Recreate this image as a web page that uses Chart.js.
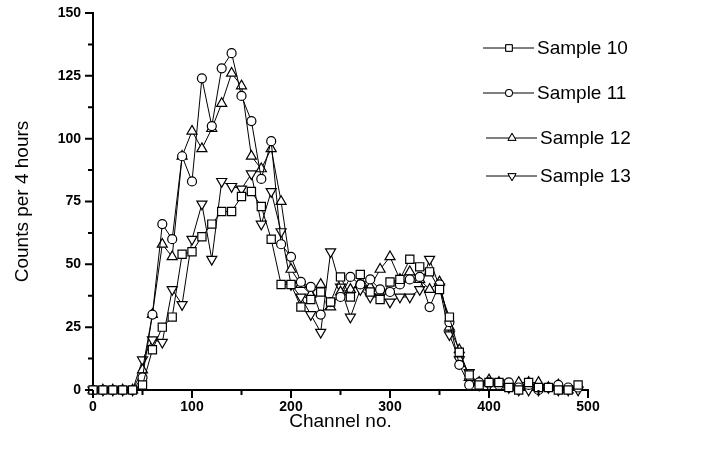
<!DOCTYPE html>
<html>
<head>
<meta charset="utf-8">
<script src="https://cdn.jsdelivr.net/npm/chart.js@4"></script>
<style>
  html, body { margin: 0; padding: 0; background: #fff; }
  #wrap { width: 726px; height: 453px; }
</style>
</head>
<body>
<div id="wrap"><canvas id="chart" width="726" height="453"></canvas></div>
<script>
// --- Data ---
const channels = [0, 10, 20, 30, 40, 50, 60, 70, 80, 90,
  100, 110, 120, 130, 140, 150, 160, 170, 180, 190,
  200, 210, 220, 230, 240, 250, 260, 270, 280, 290,
  300, 310, 320, 330, 340, 350, 360, 370, 380, 390,
  400, 410, 420, 430, 440, 450, 460, 470, 480, 490];

const sample10 = [0, 0, 0, 0, 0, 2, 16, 25, 29, 54,
  55, 61, 66, 71, 71, 77, 79, 73, 60, 42,
  42, 33, 36, 39, 35, 45, 37, 46, 39, 36,
  43, 44, 52, 49, 47, 40, 29, 15, 6, 2,
  3, 3, 1, 0, 3, 1, 1, 0, 0, 2];

const sample11 = [0, 0, 0, 0, 0, 5, 30, 66, 60, 93,
  83, 124, 105, 128, 134, 117, 107, 84, 99, 58,
  53, 43, 41, 30, 35, 37, 45, 42, 44, 40,
  39, 42, 44, 45, 33, 42, 27, 10, 2, 3,
  3, 2, 3, 1, 2, 0, 1, 2, 1, 1];

const sample12 = [0, 0, 0, 0, 0, 8, 30, 58, 53, 93,
  103, 96, 104, 114, 126, 121, 93, 88, 96, 75,
  48, 42, 38, 42, 33, 39, 40, 42, 41, 48,
  53, 44, 47, 44, 40, 43, 25, 16, 5, 3,
  4, 3, 2, 3, 3, 3, 1, 2, 0, 1];

const sample13 = [0, 0, 0, 0, 0, 12, 20, 19, 40, 34,
  60, 74, 52, 83, 81, 80, 86, 66, 79, 63,
  42, 37, 30, 23, 55, 41, 29, 40, 37, 37,
  35, 37, 37, 40, 52, 41, 22, 12, 7, 2,
  2, 3, 1, 0, 0, 0, 1, 0, 0, 0];

const seriesNames = ['Sample 10', 'Sample 11', 'Sample 12', 'Sample 13'];
const xMajor = [0, 100, 200, 300, 400, 500];
const yMajor = [0, 25, 50, 75, 100, 125, 150];

// --- Styling ---
const FONT = "'Liberation Sans', Arial, sans-serif";
const markers = [
  { style: 'rect', radius: 5.8, rotation: 0 },
  { style: 'circle', radius: 4.5, rotation: 0 },
  { style: 'triangle', radius: 5.8, rotation: 0 },
  { style: 'triangle', radius: 5.8, rotation: 180 }
];

function toPoints(values) {
  return channels.map((c, i) => ({ x: c, y: values[i] }));
}

const datasets = [sample10, sample11, sample12, sample13].map((vals, i) => ({
  label: seriesNames[i],
  data: toPoints(vals),
  borderColor: '#000',
  borderWidth: 1,
  tension: 0,
  pointStyle: markers[i].style,
  pointRotation: markers[i].rotation,
  pointRadius: markers[i].radius,
  pointBackgroundColor: '#fff',
  pointBorderColor: '#000',
  pointBorderWidth: 1.2,
  clip: false
}));

// ticks outward, major + minor
const axisTicks = {
  id: 'axisTicks',
  afterDraw(chart) {
    const ctx = chart.ctx;
    const xs = chart.scales.x, ys = chart.scales.y;
    ctx.save();
    ctx.strokeStyle = '#000';
    ctx.lineWidth = 2;
    const bottom = ys.getPixelForValue(0);
    const left = xs.getPixelForValue(0);
    ctx.beginPath();
    xMajor.forEach((v, i) => {
      const px = xs.getPixelForValue(v);
      ctx.moveTo(px, bottom); ctx.lineTo(px, bottom + 8);
      if (i < xMajor.length - 1) {
        const mx = xs.getPixelForValue(v + 50);
        ctx.moveTo(mx, bottom); ctx.lineTo(mx, bottom + 5);
      }
    });
    yMajor.forEach((v, i) => {
      const py = ys.getPixelForValue(v);
      ctx.moveTo(left, py); ctx.lineTo(left - 8, py);
      if (i < yMajor.length - 1) {
        const my = ys.getPixelForValue(v + 12.5);
        ctx.moveTo(left, my); ctx.lineTo(left - 5, my);
      }
    });
    ctx.stroke();
    ctx.restore();
  }
};

// line-marker-line legend like the original
const sampleLegend = {
  id: 'sampleLegend',
  afterDraw(chart) {
    const ctx = chart.ctx;
    const rows = [48, 93, 138, 176];
    const shift = [0, 0, 3, 3];
    ctx.save();
    ctx.font = '19px ' + FONT;
    ctx.textBaseline = 'middle';
    ctx.fillStyle = '#000';
    rows.forEach((y, i) => {
      const x0 = 483 + shift[i];
      ctx.strokeStyle = '#000';
      ctx.lineWidth = 1;
      ctx.beginPath();
      ctx.moveTo(x0, y); ctx.lineTo(x0 + 51, y);
      ctx.stroke();
      Chart.helpers.drawPoint(ctx, {
        pointStyle: markers[i].style,
        rotation: markers[i].rotation,
        radius: markers[i].radius * 0.8,
        borderWidth: 1
      }, x0 + 26, y);
      ctx.fillStyle = '#fff';
      ctx.fill();
      ctx.stroke();
      ctx.fillStyle = '#000';
      ctx.fillText(seriesNames[i], x0 + 54, y + 1);
    });
    ctx.restore();
  }
};

new Chart(document.getElementById('chart'), {
  type: 'line',
  data: { datasets },
  options: {
    responsive: false,
    animation: false,
    layout: { padding: { top: 13, right: 138, bottom: 0, left: 0 } },
    plugins: { legend: { display: false }, tooltip: { enabled: false } },
    scales: {
      x: {
        type: 'linear',
        min: 0, max: 500,
        afterFit(scale) { scale.height = 63; scale.paddingLeft = 0; scale.paddingRight = 0; },
        grid: { display: false, drawTicks: false },
        border: { display: true, color: '#000', width: 2 },
        ticks: {
          stepSize: 100,
          padding: 9,
          color: '#000',
          font: { family: FONT, size: 14, weight: 'bold' }
        },
        title: {
          display: true,
          text: 'Channel no.',
          color: '#000',
          font: { family: FONT, size: 19 },
          padding: { top: 0, bottom: 20 }
        }
      },
      y: {
        min: 0, max: 150,
        afterFit(scale) { scale.width = 93; scale.paddingTop = 0; scale.paddingBottom = 0; },
        grid: { display: false, drawTicks: false },
        border: { display: true, color: '#000', width: 2 },
        ticks: {
          stepSize: 25,
          padding: 12,
          color: '#000',
          font: { family: FONT, size: 14, weight: 'bold' }
        },
        title: {
          display: true,
          text: 'Counts per 4 hours',
          color: '#000',
          font: { family: FONT, size: 19 },
          padding: { top: 11, bottom: 0 }
        }
      }
    }
  },
  plugins: [axisTicks, sampleLegend]
});
</script>
</body>
</html>
